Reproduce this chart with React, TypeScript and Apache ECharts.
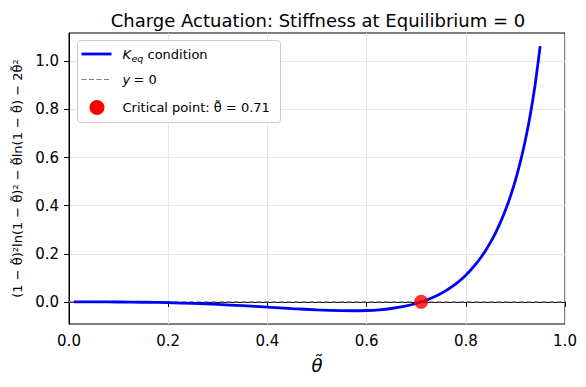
import React, { useEffect, useRef } from "react";
import * as echarts from "echarts";

const thetaValues = [0.01, 0.05, 0.1, 0.15, 0.2, 0.25, 0.3, 0.35, 0.4, 0.45, 0.5, 0.55, 0.575, 0.6, 0.625, 0.65, 0.675, 0.7, 0.725, 0.75, 0.76, 0.77, 0.78, 0.79, 0.8, 0.81, 0.82, 0.83, 0.84, 0.85, 0.86, 0.87, 0.88, 0.89, 0.9, 0.91, 0.92, 0.93, 0.94, 0.95];
const keqValues = [0.0, -0.0001, -0.0005, -0.0015, -0.0035, -0.0065, -0.0107, -0.0158, -0.0217, -0.0279, -0.0333, -0.0367, -0.037, -0.0359, -0.0329, -0.0276, -0.0192, -0.0068, 0.0108, 0.0348, 0.0467, 0.0601, 0.0752, 0.0921, 0.1112, 0.1326, 0.1566, 0.1837, 0.2141, 0.2485, 0.2874, 0.3315, 0.3818, 0.4392, 0.5053, 0.582, 0.6717, 0.778, 0.9059, 1.0634];
const zeroX = [0, 1];
const zeroY = [0, 0];
const criticalTheta = 0.71;
const criticalValue = 0;
const yTicks = [0, 0.2, 0.4, 0.6, 0.8, 1.0];
const yMin = -0.092;
const yMax = 1.118;

const FONT = "DejaVu Sans";

export default function App() {
  const ref = useRef<HTMLDivElement>(null);
  useEffect(() => {
    document.body.style.margin = "0";
    const chart = echarts.init(ref.current!, null, { renderer: "svg" });
    const curve = thetaValues.map((t, i) => [t, keqValues[i]]);
    const zero = zeroX.map((x, i) => [x, zeroY[i]]);
    const tickLabel = { fontFamily: FONT, fontSize: 15, color: "#000" };
    const Z = 100;
    chart.setOption({
      animation: false,
      backgroundColor: "#fff",
      title: {
        text: "Charge Actuation: Stiffness at Equilibrium = 0",
        left: 313,
        textAlign: "center",
        top: 6,
        textStyle: { fontFamily: FONT, fontSize: 18, fontWeight: "normal", color: "#000" },
      },
      grid: {
        left: 69,
        right: 21,
        top: 33,
        bottom: 63,
        show: true,
        borderColor: "#000",
        borderWidth: 1,
        backgroundColor: "transparent",
      },
      xAxis: {
        type: "value",
        min: 0,
        max: 1,
        interval: 0.2,
        name: "θ̃",
        nameLocation: "middle",
        nameGap: 32,
        nameTextStyle: { fontFamily: FONT, fontSize: 18, fontStyle: "italic", color: "#000" },
        axisLine: { show: true, lineStyle: { color: "#000", width: 1 } },
        axisTick: { show: true, length: 5, lineStyle: { color: "#000" } },
        axisLabel: { ...tickLabel, margin: 9, formatter: (v: number) => v.toFixed(1) },
        splitLine: { show: true, lineStyle: { color: "#e6e6e6", width: 1 } },
      },
      yAxis: {
        type: "value",
        min: yMin,
        max: yMax,
        name: "(1 − θ̃)²ln(1 − θ̃)² − θ̃ln(1 − θ̃) − 2θ̃²",
        nameLocation: "middle",
        nameRotate: 90,
        nameGap: 43,
        nameTextStyle: { fontFamily: FONT, fontSize: 13, color: "#000" },
        axisLine: { show: true, lineStyle: { color: "#000", width: 1 } },
        axisTick: { show: true, length: 5, lineStyle: { color: "#000" }, customValues: yTicks },
        axisLabel: { ...tickLabel, margin: 10, customValues: yTicks, formatter: (v: number) => v.toFixed(1) },
        splitLine: { show: true, lineStyle: { color: "#e6e6e6", width: 1 } },
      },
      series: [
        {
          type: "line",
          name: "y = 0",
          data: zero,
          symbol: "none",
          lineStyle: { color: "#808080", width: 1.1, type: [5, 2.5] },
          z: 2,
        },
        {
          type: "line",
          name: "Keq condition",
          data: curve,
          symbol: "none",
          smooth: 0.2,
          lineStyle: { color: "#0000ff", width: 2.8 },
          z: 3,
        },
        {
          type: "scatter",
          name: "Critical point",
          data: [[criticalTheta, criticalValue]],
          symbol: "circle",
          symbolSize: 14,
          itemStyle: { color: "#ff0000" },
          z: 5,
        },
      ],
      graphic: [
        {
          type: "group",
          left: 77,
          top: 40,
          z: Z,
          children: [
            {
              type: "rect",
              z: Z,
              shape: { x: 0, y: 0, width: 203, height: 82, r: 3 },
              style: { fill: "#ffffff", stroke: "#cccccc", lineWidth: 1 },
            },
            { type: "line", z: Z + 1, shape: { x1: 4, y1: 13.5, x2: 34, y2: 13.5 }, style: { stroke: "#0000ff", lineWidth: 2.8 } },
            { type: "text", z: Z + 1, x: 45, y: 13.5, style: { text: "K", fontFamily: FONT, fontSize: 13, fontStyle: "italic", fill: "#000", verticalAlign: "middle" } },
            { type: "text", z: Z + 1, x: 54, y: 18, style: { text: "eq", fontFamily: FONT, fontSize: 9.5, fontStyle: "italic", fill: "#000", verticalAlign: "middle" } },
            { type: "text", z: Z + 1, x: 70, y: 13.5, style: { text: "condition", fontFamily: FONT, fontSize: 13, fill: "#000", verticalAlign: "middle" } },
            { type: "line", z: Z + 1, shape: { x1: 4, y1: 39, x2: 34, y2: 39 }, style: { stroke: "#808080", lineWidth: 1.1, lineDash: [5, 2.5] } },
            { type: "text", z: Z + 1, x: 45, y: 39, style: { text: "y", fontFamily: FONT, fontSize: 13, fontStyle: "italic", fill: "#000", verticalAlign: "middle" } },
            { type: "text", z: Z + 1, x: 56, y: 39, style: { text: "= 0", fontFamily: FONT, fontSize: 13, fill: "#000", verticalAlign: "middle" } },
            { type: "circle", z: Z + 1, shape: { cx: 19.5, cy: 67, r: 7.5 }, style: { fill: "#ff0000" } },
            { type: "text", z: Z + 1, x: 45, y: 67, style: { text: "Critical point: θ̃ = 0.71", fontFamily: FONT, fontSize: 13, fill: "#000", verticalAlign: "middle" } },
          ],
        },
      ],
    });
    return () => chart.dispose();
  }, []);
  return <div ref={ref} style={{ width: 586, height: 387 }} />;
}
